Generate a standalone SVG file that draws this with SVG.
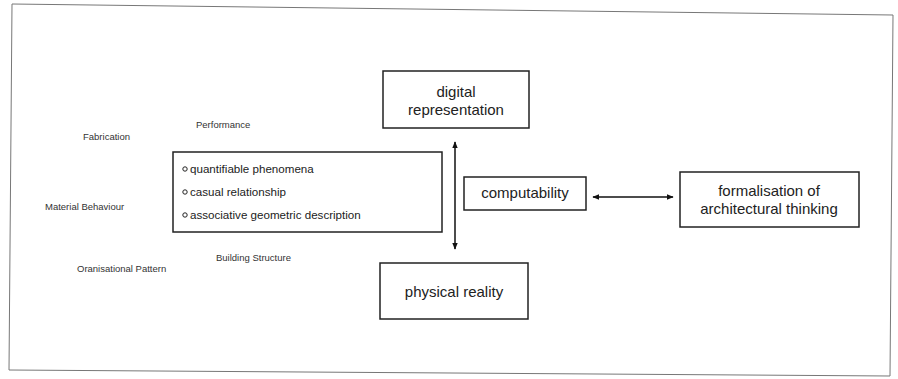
<svg xmlns="http://www.w3.org/2000/svg" width="898" height="379" viewBox="0 0 898 379">
<defs>
<style>
.box{fill:none;stroke:#222;stroke-width:1.5}
.big{font-family:"Liberation Sans",Arial,sans-serif;font-size:15px;fill:#222;text-anchor:middle}
.mid{font-family:"Liberation Sans",Arial,sans-serif;font-size:11.6px;fill:#222}
.small{font-family:"Liberation Sans",Arial,sans-serif;font-size:9.5px;fill:#333}
.conn{stroke:#111;stroke-width:1.5;fill:none}
.bullet{fill:none;stroke:#222;stroke-width:1}
</style>
<marker id="ah" viewBox="0 0 10 10" refX="9" refY="5" markerWidth="7" markerHeight="7" markerUnits="userSpaceOnUse" orient="auto-start-reverse">
<path d="M0,1 L10,5 L0,9 z" fill="#111"/>
</marker>
</defs>
<rect width="898" height="379" fill="#fff"/>
<path d="M12,4 L893,15 L890,376 L9,370 Z" fill="none" stroke="#777" stroke-width="1"/>

<g id="labels">
<text class="small" x="196" y="128">Performance</text>
<text class="small" x="83" y="140">Fabrication</text>
<text class="small" x="45" y="210">Material Behaviour</text>
<text class="small" x="216" y="261">Building Structure</text>
<text class="small" x="77" y="272">Oranisational Pattern</text>
</g>

<g id="digital-representation">
<rect class="box" x="383" y="71" width="146" height="57"/>
<text class="big" x="456" y="97">digital</text>
<text class="big" x="456" y="115">representation</text>
</g>

<g id="properties">
<rect class="box" x="173" y="152" width="269" height="80"/>
<circle class="bullet" cx="185" cy="169" r="2.2"/>
<text class="mid" x="190" y="173">quantifiable phenomena</text>
<circle class="bullet" cx="185" cy="192" r="2.2"/>
<text class="mid" x="190" y="196">casual relationship</text>
<circle class="bullet" cx="185" cy="215" r="2.2"/>
<text class="mid" x="190" y="219">associative geometric description</text>
</g>

<g id="computability">
<rect class="box" x="464" y="177" width="122" height="33"/>
<text class="big" x="525" y="198">computability</text>
</g>

<g id="formalisation">
<rect class="box" x="680" y="172" width="179" height="55"/>
<text class="big" x="769" y="196">formalisation of</text>
<text class="big" x="769" y="214">architectural thinking</text>
</g>

<g id="physical-reality">
<rect class="box" x="380" y="263" width="148" height="56"/>
<text class="big" x="454" y="297">physical reality</text>
</g>

<g id="connectors">
<line class="conn" x1="455" y1="142" x2="455" y2="249" marker-start="url(#ah)" marker-end="url(#ah)"/>
<line class="conn" x1="593" y1="197" x2="673" y2="197" marker-start="url(#ah)" marker-end="url(#ah)"/>
</g>
</svg>
